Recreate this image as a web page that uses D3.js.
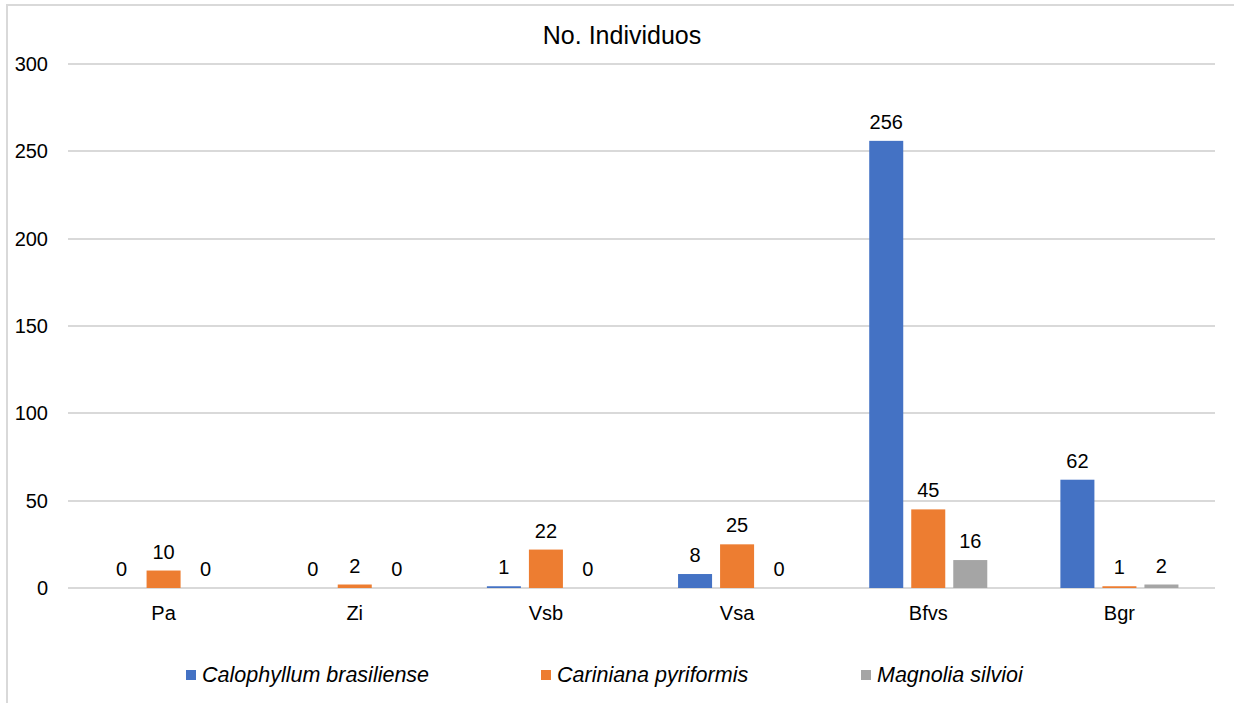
<!DOCTYPE html>
<html>
<head>
<meta charset="utf-8">
<script src="https://cdn.jsdelivr.net/npm/d3@7"></script>
<style>
  body { margin: 0; background: #fff; }
  text { font-family: "Liberation Sans", Arial, sans-serif; fill: #000; }
</style>
</head>
<body>
<div id="chart"></div>
<script>
var categories = ["Pa", "Zi", "Vsb", "Vsa", "Bfvs", "Bgr"];
var series = ["Calophyllum brasiliense", "Cariniana pyriformis", "Magnolia silvioi"];
var calophyllum = [0, 0, 1, 8, 256, 62];
var cariniana = [10, 2, 22, 25, 45, 1];
var magnolia = [0, 0, 0, 0, 16, 2];
var colors = ["#4472C4", "#ED7D31", "#A5A5A5"];
var yTicks = [0, 50, 100, 150, 200, 250, 300];

var values = [calophyllum, cariniana, magnolia];

var w = 1234, h = 703;
var plotLeft = 68, plotRight = 1215, plotTop = 64, plotBottom = 588;

var svg = d3.select("#chart")
  .append("svg")
  .attr("width", w)
  .attr("height", h);

// chart frame (only left and top visible)
svg.append("path")
  .attr("d", "M7," + h + "V5H" + w)
  .style("fill", "none")
  .style("stroke", "#d9d9d9")
  .style("stroke-width", 2);

svg.append("text")
  .attr("x", 622)
  .attr("y", 44)
  .attr("text-anchor", "middle")
  .style("font-size", "25px")
  .text("No. Individuos");

var x0 = d3.scaleBand()
  .domain(categories)
  .range([plotLeft, plotRight]);

var x1 = d3.scaleBand()
  .domain(series)
  .range([0, x0.bandwidth()])
  .paddingInner(8 / 42)
  .paddingOuter(0.87);

var y = d3.scaleLinear()
  .domain([0, 300])
  .range([plotBottom, plotTop]);

// gridlines
svg.append("g")
  .selectAll("line")
  .data(yTicks)
  .enter().append("line")
  .attr("x1", plotLeft)
  .attr("x2", plotRight)
  .attr("y1", function(d) { return Math.round(y(d)); })
  .attr("y2", function(d) { return Math.round(y(d)); })
  .style("stroke", "#d9d9d9")
  .style("stroke-width", 2);

// y tick labels
svg.append("g")
  .selectAll("text")
  .data(yTicks)
  .enter().append("text")
  .attr("x", 48)
  .attr("y", function(d) { return y(d) + 7; })
  .attr("text-anchor", "end")
  .style("font-size", "20px")
  .text(function(d) { return d; });

// x category labels
svg.append("g")
  .selectAll("text")
  .data(categories)
  .enter().append("text")
  .attr("x", function(d) { return x0(d) + x0.bandwidth() / 2; })
  .attr("y", 620)
  .attr("text-anchor", "middle")
  .style("font-size", "20px")
  .text(function(d) { return d; });

// bars
var rows = [];
categories.forEach(function(c, i) {
  series.forEach(function(s, j) {
    rows.push({ cat: c, ser: s, val: values[j][i], color: colors[j] });
  });
});

svg.append("g")
  .selectAll("rect")
  .data(rows)
  .enter().append("rect")
  .attr("x", function(d) { return x0(d.cat) + x1(d.ser); })
  .attr("y", function(d) { return y(d.val); })
  .attr("width", x1.bandwidth())
  .attr("height", function(d) { return y(0) - y(d.val); })
  .style("fill", function(d) { return d.color; });

// value labels
svg.append("g")
  .selectAll("text")
  .data(rows)
  .enter().append("text")
  .attr("x", function(d) { return x0(d.cat) + x1(d.ser) + x1.bandwidth() / 2; })
  .attr("y", function(d) { return y(d.val) - 12; })
  .attr("text-anchor", "middle")
  .style("font-size", "20px")
  .text(function(d) { return d.val; });

// legend
var legendX = [186, 541, 861];
var legend = svg.append("g")
  .selectAll("g")
  .data(series)
  .enter().append("g")
  .attr("transform", function(d, i) { return "translate(" + legendX[i] + ",0)"; });

legend.append("rect")
  .attr("x", 0)
  .attr("y", 670)
  .attr("width", 10)
  .attr("height", 10)
  .style("fill", function(d, i) { return colors[i]; });

legend.append("text")
  .attr("x", 16)
  .attr("y", 682)
  .style("font-size", "21.5px")
  .style("font-style", "italic")
  .text(function(d) { return d; });
</script>
</body>
</html>
